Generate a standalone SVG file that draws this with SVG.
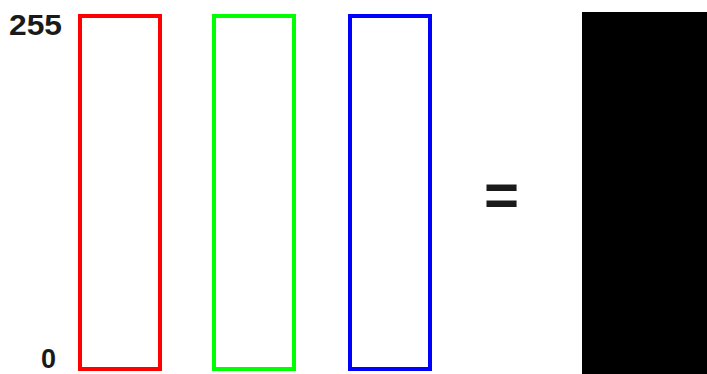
<svg xmlns="http://www.w3.org/2000/svg" width="707" height="374" viewBox="0 0 707 374">
<style>
.bar{fill:none;stroke-width:4}
.lbl{font-family:"Liberation Sans",Arial,sans-serif;font-weight:bold;fill:#1a1a1a}
</style>
<rect width="707" height="374" fill="#fff"/>
<g id="label-255"><text class="lbl" x="62" y="35" font-size="29" text-anchor="end" textLength="53" lengthAdjust="spacingAndGlyphs">255</text></g>
<g id="label-0"><text class="lbl" x="56" y="368" font-size="27" text-anchor="end">0</text></g>
<g id="red"><rect class="bar" x="80" y="16" width="80" height="353" stroke="#ff0000"/></g>
<g id="green"><rect class="bar" x="214" y="16" width="80" height="353" stroke="#00ff00"/></g>
<g id="blue"><rect class="bar" x="350" y="16" width="80" height="353" stroke="#0000ff"/></g>
<g id="equals"><text class="lbl" x="484" y="215" font-size="60" fill="#000">=</text></g>
<g id="result"><rect x="582" y="12" width="125" height="362" fill="#000"/></g>
<g id="connectors"/>
</svg>
